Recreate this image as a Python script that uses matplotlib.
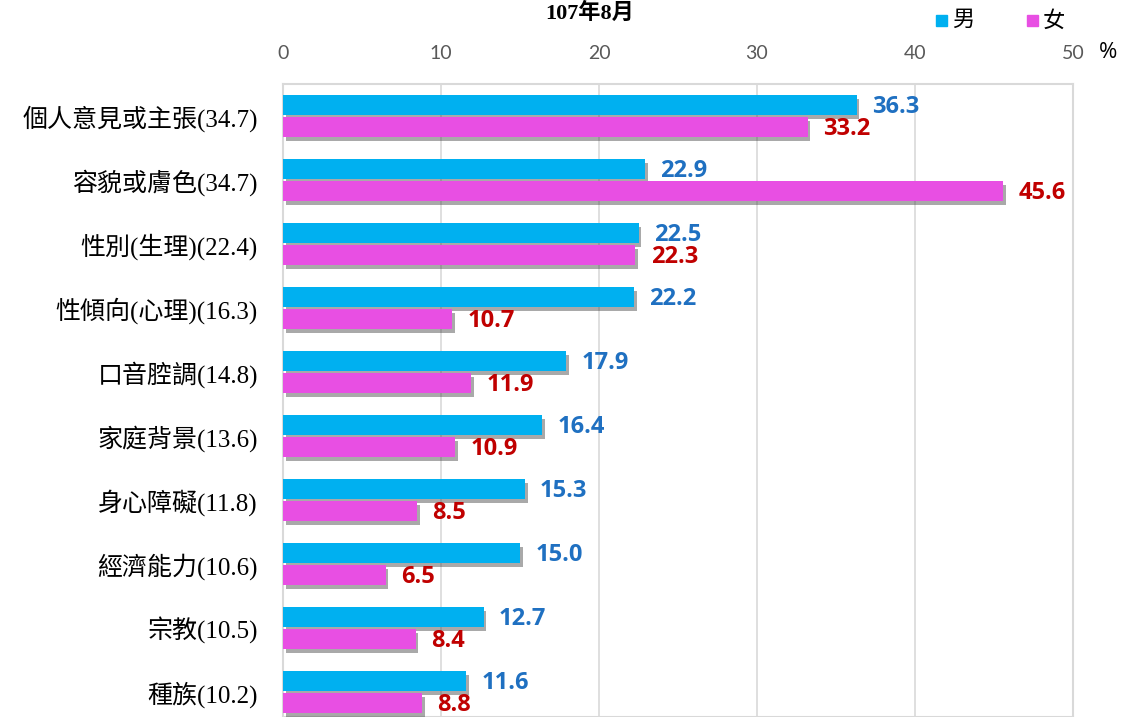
import matplotlib
matplotlib.use("Agg")
import matplotlib.pyplot as plt
import matplotlib.patheffects as pe
import numpy as np

categories = ['個人意見或主張(34.7)', '容貌或膚色(34.7)', '性別(生理)(22.4)', '性傾向(心理)(16.3)',
              '口音腔調(14.8)', '家庭背景(13.6)', '身心障礙(11.8)', '經濟能力(10.6)',
              '宗教(10.5)', '種族(10.2)']
male = [36.3, 22.9, 22.5, 22.2, 17.9, 16.4, 15.3, 15.0, 12.7, 11.6]
female = [33.2, 45.6, 22.3, 10.7, 11.9, 10.9, 8.5, 6.5, 8.4, 8.8]
xticks = [0, 10, 20, 30, 40, 50]
title = '107年8月'
series_names = ['男', '女']

c_male = '#00B0F0'
c_female = '#E84FE3'
c_male_txt = '#1F70C1'
c_female_txt = '#C00000'

serif_cjk = ['Liberation Serif', 'Noto Sans CJK TC']

fig = plt.figure(figsize=(11.23, 7.17), dpi=100)
ax = fig.add_axes([283/1123, 0.0, (1073-283)/1123, 1 - 84/717])

y = np.arange(len(categories))
h = 0.31
shadow = [pe.SimplePatchShadow(offset=(2, -3), shadow_rgbFace='#404040', alpha=0.45), pe.Normal()]
b1 = ax.barh(y - 0.17, male, height=h, color=c_male, zorder=3)
b2 = ax.barh(y + 0.175, female, height=h, color=c_female, zorder=3)
for b in list(b1) + list(b2):
    b.set_path_effects(shadow)

for yi, v in zip(y, male):
    ax.annotate(f'{v:.1f}', (v, yi - 0.14), xytext=(11, 0), textcoords='offset points',
                ha='left', va='center', color=c_male_txt, fontsize=17, fontweight='bold',
                family='Open Sans', zorder=4)
for yi, v in zip(y, female):
    ax.annotate(f'{v:.1f}', (v, yi + 0.2), xytext=(11, 0), textcoords='offset points',
                ha='left', va='center', color=c_female_txt, fontsize=17, fontweight='bold',
                family='Open Sans', zorder=4)

ax.set_xlim(0, 50)
ax.set_ylim(9.39, -0.5)
ax.set_xticks(xticks)
ax.set_xticklabels([str(t) for t in xticks])
ax.xaxis.tick_top()
ax.tick_params(axis='x', length=0, pad=16, labelsize=14, labelcolor='#595959')
for lab in ax.get_xticklabels():
    lab.set_family('Lato')
ax.set_yticks(y)
ax.set_yticklabels(categories)
ax.tick_params(axis='y', length=0, pad=18, labelsize=18)
for lab in ax.get_yticklabels():
    lab.set_family(serif_cjk)
ax.grid(axis='x', color='#D9D9D9', linewidth=1.2, zorder=0)
for s in ax.spines.values():
    s.set_color('#D9D9D9')
    s.set_linewidth(1.5)

fig.text(590/1123, 1 - 13/717, title, ha='center', va='center', fontsize=16,
         fontweight='bold', family=serif_cjk)
# legend
fig.patches.append(plt.Rectangle((936/1123, 1 - 26/717), 11/1123, 11/717, color=c_male,
                                 transform=fig.transFigure, figure=fig))
fig.text(952/1123, 1 - 21/717, series_names[0], ha='left', va='center', fontsize=16, family=serif_cjk)
fig.patches.append(plt.Rectangle((1027/1123, 1 - 26/717), 11/1123, 11/717, color=c_female,
                                 transform=fig.transFigure, figure=fig))
fig.text(1043/1123, 1 - 21/717, series_names[1], ha='left', va='center', fontsize=16, family=serif_cjk)
fig.text(1108/1123, 1 - 53/717, '%', ha='center', va='center', fontsize=16, family='Open Sans')

fig.savefig('out.png', dpi=100)
